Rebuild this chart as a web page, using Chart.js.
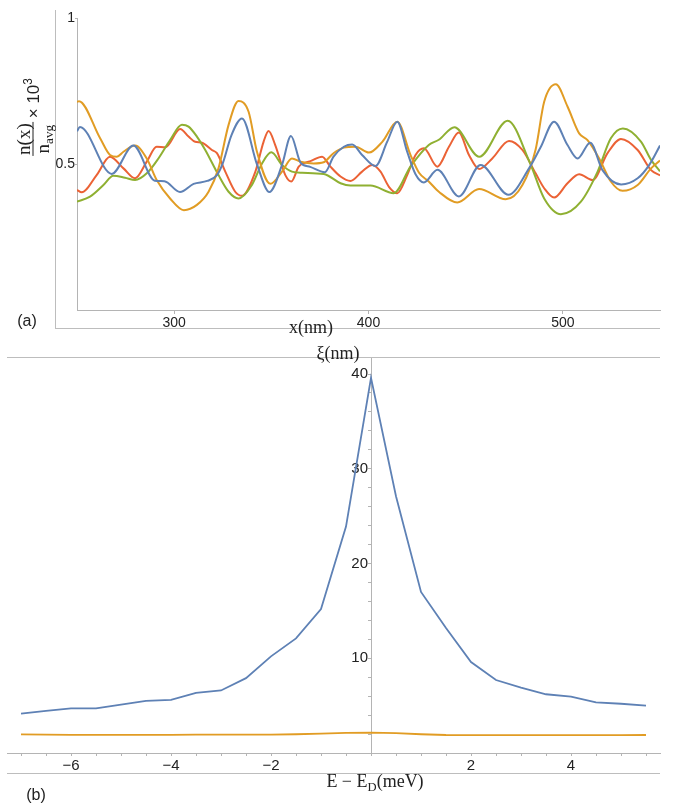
<!DOCTYPE html>
<html>
<head>
<meta charset="utf-8">
<script src="https://cdn.jsdelivr.net/npm/chart.js@4.4.1/dist/chart.umd.min.js"></script>
<style>
  html, body { margin: 0; padding: 0; background: #fff; }
  #page { position: relative; width: 673px; height: 804px; overflow: hidden; }
  canvas { position: absolute; left: 0; }
  .line { position: absolute; background: #bdbdbd; }
  .lbl { position: absolute; transform: translate(-50%, -50%); white-space: nowrap; color: #222; }
  .sans { font-family: "Liberation Sans", Arial, sans-serif; }
  .serif { font-family: "Liberation Serif", "Times New Roman", serif; }
  sub, sup { font-size: 70%; line-height: 0; }
  #ylab { position: absolute; left: 33px; top: 117px; transform: translate(-50%, -50%) rotate(-90deg);
          display: flex; align-items: center; white-space: nowrap; color: #222; }
  .frac { display: inline-flex; flex-direction: column; align-items: center; margin-right: 4px; }
  .frac .num { border-bottom: 1px solid #222; padding: 0 1px; line-height: 18px; }
  .frac .den { line-height: 18px; }
</style>
</head>
<body>
<div id="page">
  <canvas id="densityChart" width="673" height="340" style="top:0"></canvas>
  <canvas id="lengthChart" width="673" height="464" style="top:340px"></canvas>

  <div class="line" style="left:55px; top:10px; width:1px; height:318px"></div>
  <div class="line" style="left:55px; top:328px; width:605px; height:1px"></div>
  <div class="line" style="left:7px; top:357px; width:653px; height:1px"></div>
  <div class="line" style="left:7px; top:773px; width:653px; height:1px"></div>

  <div id="ylab">
    <span class="frac serif" style="font-size:19px"><span class="num">n(x)</span><span class="den">n<sub>avg</sub></span></span>
    <span class="sans" style="font-size:17px">× 10<sup>3</sup></span>
  </div>
  <div class="lbl sans" style="left:27px; top:321px; font-size:16px">(a)</div>
  <div class="lbl serif" style="left:311px; top:327px; font-size:18px">x(nm)</div>
  <div class="lbl serif" style="left:338px; top:353px; font-size:18px">ξ(nm)</div>
  <div class="lbl serif" style="left:375px; top:781px; font-size:18px">E − E<sub>D</sub>(meV)</div>
  <div class="lbl sans" style="left:36px; top:795px; font-size:16px">(b)</div>
</div>
<script>
// panel (a): density profiles, x in nm, value n(x)/n_avg x 10^3
const blueX = [250, 251.5, 267.9, 279, 290, 295, 303, 310, 317, 322, 325, 329.5, 334.9, 342.7, 349, 355.5, 360.1, 365, 370, 377.5, 382, 387.3, 391.6, 396.7, 403.6, 409.6, 414.8, 419.9, 424.2, 428.5, 435.5, 446.5, 457.7, 472, 482.6, 488.7, 495.5, 502.4, 507.6, 514.1, 520.4, 530, 538.5, 544.5, 550];
const blueN = [0.612, 0.627, 0.466, 0.563, 0.443, 0.441, 0.404, 0.432, 0.442, 0.462, 0.502, 0.599, 0.656, 0.497, 0.404, 0.497, 0.596, 0.505, 0.49, 0.472, 0.525, 0.559, 0.567, 0.531, 0.493, 0.576, 0.645, 0.542, 0.465, 0.437, 0.48, 0.389, 0.497, 0.395, 0.485, 0.559, 0.645, 0.565, 0.519, 0.573, 0.479, 0.43, 0.451, 0.497, 0.563];

const orangeX = [250, 251, 261.9, 267, 270.5, 273.9, 279.9, 285.9, 291, 297.9, 305, 311.7, 317.7, 322.8, 328, 333.1, 338.3, 342.6, 349.5, 355.5, 360.6, 365, 371.8, 376.9, 382, 387.3, 393.3, 400.2, 407.1, 414.8, 421.6, 426, 431, 436.2, 445.7, 456.9, 470.6, 479.2, 486, 490.4, 496.4, 502.4, 508.4, 512.7, 518.7, 524.7, 530.7, 538.5, 545.4, 550];
const orangeN = [0.713, 0.715, 0.588, 0.531, 0.525, 0.542, 0.563, 0.519, 0.445, 0.382, 0.342, 0.36, 0.405, 0.485, 0.634, 0.716, 0.679, 0.542, 0.432, 0.474, 0.519, 0.508, 0.502, 0.506, 0.537, 0.556, 0.559, 0.539, 0.576, 0.645, 0.531, 0.47, 0.44, 0.405, 0.368, 0.414, 0.379, 0.428, 0.55, 0.713, 0.773, 0.697, 0.605, 0.582, 0.519, 0.44, 0.408, 0.428, 0.485, 0.512];

const greenX = [250, 256.7, 263.6, 268.7, 274.7, 279.9, 285.9, 291.9, 297.9, 304, 307.4, 311.7, 316, 322.8, 328, 333.1, 340, 345.2, 350, 355.5, 360.6, 365.8, 377, 385.6, 390.7, 401, 413, 421.6, 431, 436.2, 444.2, 457, 471.6, 483, 490.4, 499, 509.3, 517.9, 524.7, 530.9, 540.2, 545.4, 550];
const greenN = [0.371, 0.388, 0.428, 0.46, 0.453, 0.445, 0.468, 0.519, 0.582, 0.634, 0.628, 0.594, 0.548, 0.462, 0.405, 0.382, 0.428, 0.502, 0.54, 0.497, 0.474, 0.47, 0.466, 0.434, 0.426, 0.426, 0.4, 0.491, 0.565, 0.583, 0.626, 0.525, 0.648, 0.505, 0.382, 0.328, 0.371, 0.474, 0.588, 0.622, 0.577, 0.514, 0.475];

const redX = [250, 252.4, 260.1, 267, 273.9, 279.9, 285.9, 291, 295.4, 303.1, 307.4, 310.8, 314.3, 319.4, 322, 326.3, 331.4, 334.9, 341.8, 346, 348.6, 352, 357.2, 360.3, 364.1, 367.5, 370.1, 376.1, 380.4, 385.6, 390.7, 396.7, 401.9, 406.2, 410.5, 414.8, 419.9, 424.2, 428.5, 435.4, 441.4, 446.5, 451.7, 456.9, 463.7, 472.3, 479.2, 486, 490.4, 495.5, 502.4, 508.4, 515.3, 523, 529.9, 538.5, 545.4, 550];
const redN = [0.411, 0.403, 0.462, 0.525, 0.485, 0.451, 0.508, 0.559, 0.557, 0.62, 0.594, 0.576, 0.573, 0.548, 0.537, 0.474, 0.405, 0.391, 0.474, 0.576, 0.613, 0.565, 0.462, 0.44, 0.491, 0.505, 0.51, 0.525, 0.491, 0.457, 0.442, 0.474, 0.497, 0.474, 0.422, 0.4, 0.462, 0.531, 0.554, 0.491, 0.559, 0.608, 0.531, 0.483, 0.519, 0.579, 0.548, 0.468, 0.417, 0.385, 0.434, 0.465, 0.445, 0.537, 0.586, 0.548, 0.479, 0.461];

const xTicksA = [300, 400, 500];
const yTicksA = [0.5, 1];

// panel (b): localization length vs energy
const energies = [-7, -6.5, -6, -5.5, -5, -4.5, -4, -3.5, -3, -2.5, -2, -1.5, -1, -0.5, 0, 0.5, 1, 1.5, 2, 2.5, 3, 3.5, 4, 4.5, 5, 5.5];
const xiBlue = [4.15, 4.45, 4.72, 4.72, 5.1, 5.5, 5.6, 6.35, 6.6, 7.9, 10.2, 12.1, 15.2, 23.9, 39.6, 27.1, 17.0, 13.2, 9.6, 7.7, 6.9, 6.2, 5.95, 5.35, 5.2, 5.0];
const xiOrange = [1.97, 1.94, 1.92, 1.92, 1.92, 1.92, 1.92, 1.93, 1.93, 1.94, 1.95, 1.98, 2.05, 2.12, 2.15, 2.1, 1.98, 1.9, 1.88, 1.88, 1.88, 1.88, 1.88, 1.88, 1.89, 1.9];
const xLabelsB = [-6, -4, -2, 2, 4];
const yLabelsB = [10, 20, 30, 40];

const BLUE = '#5E81B5', ORANGE = '#E19C24', GREEN = '#8FB032', RED = '#EB6235';
const AXIS = '#b4b4b4';
const TICK_FONT = 'Liberation Sans, Arial, sans-serif';

function pairs(xs, ys) {
    return xs.map((x, i) => ({ x: x, y: ys[i] }));
}

function curve(xs, ys, color) {
    return {
        data: pairs(xs, ys),
        borderColor: color,
        borderWidth: 2,
        pointRadius: 0,
        fill: false,
        cubicInterpolationMode: 'monotone'
    };
}

function minus(v) {
    return v < 0 ? '\u2212' + (-v) : String(v);
}

function renderDensityChart() {
    const ctx = document.getElementById('densityChart').getContext('2d');
    new Chart(ctx, {
        type: 'line',
        data: {
            datasets: [
                curve(blueX, blueN, BLUE),
                curve(orangeX, orangeN, ORANGE),
                curve(greenX, greenN, GREEN),
                curve(redX, redN, RED)
            ]
        },
        options: {
            responsive: false,
            animation: false,
            layout: { padding: { top: 18, right: 13, left: 0, bottom: 0 } },
            plugins: { legend: { display: false }, tooltip: { enabled: false } },
            scales: {
                x: {
                    type: 'linear', min: 250, max: 550,
                    afterBuildTicks: s => { s.ticks = xTicksA.map(v => ({ value: v })); },
                    afterFit: s => { s.height = 30; },
                    border: { color: AXIS },
                    grid: { drawOnChartArea: false, color: AXIS, tickLength: 4 },
                    ticks: { color: '#222', padding: 1, maxRotation: 0, font: { family: TICK_FONT, size: 14 } }
                },
                y: {
                    type: 'linear', min: 0, max: 1,
                    afterBuildTicks: s => { s.ticks = yTicksA.map(v => ({ value: v })); },
                    afterFit: s => { s.width = 77; },
                    border: { color: AXIS },
                    grid: { drawOnChartArea: false, color: AXIS, tickLength: 2 },
                    ticks: { color: '#222', padding: 0, font: { family: TICK_FONT, size: 14 },
                             callback: v => String(v) }
                }
            }
        }
    });
}

function renderLengthChart() {
    const ctx = document.getElementById('lengthChart').getContext('2d');
    new Chart(ctx, {
        type: 'line',
        data: {
            datasets: [
                { data: pairs(energies, xiBlue), borderColor: BLUE, borderWidth: 1.8, pointRadius: 0, tension: 0 },
                { data: pairs(energies, xiOrange), borderColor: ORANGE, borderWidth: 1.8, pointRadius: 0, tension: 0 }
            ]
        },
        options: {
            responsive: false,
            animation: false,
            layout: { padding: { top: 17, right: 13, left: 7, bottom: 0 } },
            plugins: { legend: { display: false }, tooltip: { enabled: false } },
            scales: {
                x: {
                    type: 'linear', min: -7.28, max: 5.78,
                    afterBuildTicks: s => {
                        const t = [];
                        for (let v = -7; v <= 5.5; v += 0.5) t.push({ value: v });
                        s.ticks = t;
                    },
                    afterFit: s => { s.height = 51; },
                    border: { color: AXIS },
                    grid: { drawOnChartArea: false, color: AXIS, tickLength: 3 },
                    ticks: { color: '#222', padding: 1, maxRotation: 0, autoSkip: false,
                             font: { family: TICK_FONT, size: 15 },
                             callback: v => xLabelsB.includes(v) ? minus(v) : '' }
                },
                y: {
                    type: 'linear', min: 0, max: 41.8,
                    position: { x: 0 },
                    afterBuildTicks: s => {
                        const t = [];
                        for (let v = 2; v <= 40; v += 2) t.push({ value: v });
                        s.ticks = t;
                    },
                    border: { color: AXIS },
                    grid: { drawOnChartArea: false, color: AXIS, tickLength: 3 },
                    ticks: { color: '#222', padding: 1, autoSkip: false,
                             font: { family: TICK_FONT, size: 15 },
                             callback: v => yLabelsB.includes(v) ? String(v) + '\u2009' : '' }
                }
            }
        }
    });
}

document.addEventListener('DOMContentLoaded', function() {
    renderDensityChart();
    renderLengthChart();
});
</script>
</body>
</html>
